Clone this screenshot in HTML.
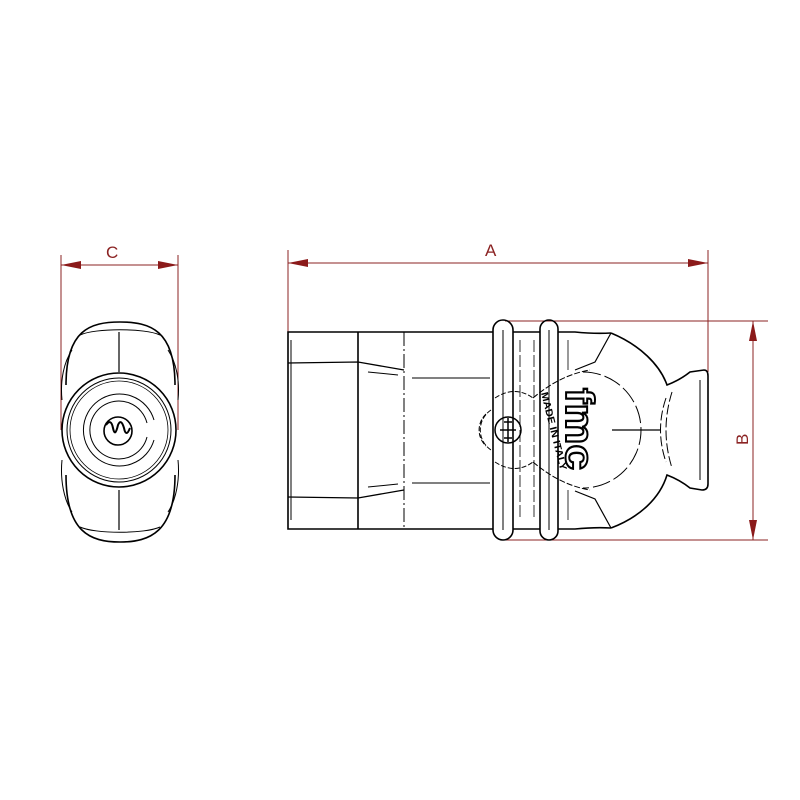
<!DOCTYPE html>
<html><head><style>html,body{margin:0;padding:0;background:#fff}svg{display:block}</style></head>
<body>
<svg width="800" height="800" viewBox="0 0 800 800" xmlns="http://www.w3.org/2000/svg">
<defs>
<marker id="ar" viewBox="0 0 20 8" refX="20" refY="4" markerWidth="20" markerHeight="8" markerUnits="userSpaceOnUse" orient="auto-start-reverse">
<path d="M0,0 L20,4 L0,8 Z" fill="#8b1a1a"/></marker>
</defs>
<g stroke="#8b2323" stroke-width="1" fill="none">
<line x1="61" y1="255" x2="61" y2="430"/><line x1="178" y1="255" x2="178" y2="430"/>
<line x1="61" y1="265" x2="178" y2="265" marker-start="url(#ar)" marker-end="url(#ar)"/>
<line x1="288" y1="250" x2="288" y2="340"/><line x1="708" y1="250" x2="708" y2="372"/>
<line x1="288" y1="263" x2="708" y2="263" marker-start="url(#ar)" marker-end="url(#ar)"/>
<line x1="505" y1="321" x2="768" y2="321"/><line x1="505" y1="540" x2="768" y2="540"/>
<line x1="753" y1="321" x2="753" y2="540" marker-start="url(#ar)" marker-end="url(#ar)"/>
</g>
<g fill="#8b2323" font-family="Liberation Sans Narrow, Liberation Sans, sans-serif" font-size="17">
<text x="106" y="258">C</text>
<text x="485" y="256">A</text>
<text x="0" y="0" transform="translate(748,445) rotate(-90)">B</text>
</g>
<g stroke="#000" fill="none" stroke-width="1.6">
<path d="M66,385 C66,330 90,322 120,322 C150,322 175,330 175,385"/>
<path d="M66,475 C66,532 90,542 120,542 C150,542 175,532 175,475"/>
<path d="M62,400 C60,380 64,362 72,350" stroke-width="1"/>
<path d="M178,400 C180,380 176,362 168,350" stroke-width="1"/>
<path d="M62,460 C60,480 64,500 72,512" stroke-width="1"/>
<path d="M178,460 C180,480 176,500 168,512" stroke-width="1"/>
<path d="M80,335 C95,328 145,328 160,335" stroke-width="1"/>
<path d="M80,527 C95,534 145,534 160,527" stroke-width="1"/>
<line x1="119" y1="332" x2="119" y2="372" stroke-width="1.2"/>
<line x1="119" y1="490" x2="119" y2="530" stroke-width="1.2"/>
<circle cx="119" cy="430" r="57"/>
<circle cx="119" cy="430" r="52" stroke-width="1"/>
<circle cx="119" cy="430" r="49" stroke-width="0.8"/>
<path d="M154,420 A36,36 0 1 0 154,440" stroke-width="1"/>
<path d="M147,423 A29,29 0 1 0 147,437" stroke-width="1"/>
<circle cx="118" cy="431" r="14" stroke-width="1.6"/>
<path d="M106,425 Q111,418 113,428 Q115,438 118,425 Q121,418 124,428 Q126,438 130,428" stroke-width="2"/>
</g>
<g stroke="#000" fill="none" stroke-width="1.6">
<path d="M493,332 L288,332 L288,529 L493,529"/>
<line x1="358" y1="332" x2="358" y2="529"/>
<line x1="404" y1="332" x2="404" y2="529" stroke-width="1" stroke-dasharray="14,3,2,3"/>
<path d="M288,363 L358,362 L404,370" stroke-width="1.3"/>
<path d="M288,497 L358,498 L404,490" stroke-width="1.3"/>
<line x1="368" y1="372" x2="398" y2="375" stroke-width="1"/>
<line x1="368" y1="487" x2="398" y2="484" stroke-width="1"/>
<line x1="412" y1="378" x2="490" y2="378" stroke-width="1"/>
<line x1="412" y1="483" x2="490" y2="483" stroke-width="1"/>
<line x1="291" y1="340" x2="291" y2="520" stroke-width="1"/>
<rect x="493" y="320" width="20" height="220" rx="10"/>
<rect x="540" y="320" width="18" height="220" rx="9"/>
<line x1="503" y1="330" x2="503" y2="530" stroke-width="1"/>
<line x1="549" y1="330" x2="549" y2="530" stroke-width="1"/>
<line x1="513" y1="332" x2="540" y2="332"/>
<line x1="513" y1="529" x2="540" y2="529"/>
<path d="M558,332 L575,332 Q595,334 611,333"/>
<path d="M558,529 L575,529 Q595,527 611,528"/>
<path d="M611,333 C640,345 660,365 667,385 Q680,380 690,372 L704,370 Q708,370 708,376 L708,484 Q708,490 702,490 L690,488 Q680,480 667,475 C660,498 640,517 611,528"/>
<line x1="700" y1="380" x2="700" y2="480" stroke-width="1"/>
<path d="M611,333 L595,362 L575,370" stroke-width="1.2"/>
<path d="M611,528 L595,499 L575,491" stroke-width="1.2"/>
<path d="M672,392 Q660,430 672,468" stroke-width="1" stroke-dasharray="10,3"/>
<path d="M666,398 Q655,430 666,462" stroke-width="1" stroke-dasharray="10,3"/>
<line x1="612" y1="430" x2="660" y2="430" stroke-width="1.2"/>
<path d="M583,372 A55,55 0 1 1 583,488" stroke-width="1" stroke-dasharray="18,4"/>
<path d="M533,398 Q560,375 590,370" stroke-width="1" stroke-dasharray="6,2"/>
<path d="M533,462 Q560,485 590,490" stroke-width="1" stroke-dasharray="6,2"/>
<path d="M495,398 Q515,385 533,398" stroke-width="1" stroke-dasharray="5,2"/>
<path d="M495,462 Q515,475 533,462" stroke-width="1" stroke-dasharray="5,2"/>
<circle cx="508" cy="430" r="13" stroke-width="1.5"/>
<path d="M491,410 A24,24 0 0 0 491,450" stroke-width="1" stroke-dasharray="5,2"/>
<path d="M486,414 A22,22 0 0 0 486,446" stroke-width="1" stroke-dasharray="5,2"/>
<path d="M504,422 h8 M508,418 v24 M500,430 h16 M504,438 h8" stroke-width="1.5"/>
<line x1="520" y1="340" x2="520" y2="520" stroke-width="0.8" stroke-dasharray="12,3"/>
<line x1="534" y1="340" x2="534" y2="520" stroke-width="0.8" stroke-dasharray="12,3"/>
<line x1="568" y1="340" x2="568" y2="370" stroke-width="0.8"/>
<line x1="568" y1="490" x2="568" y2="520" stroke-width="0.8"/>
</g>
<text x="0" y="0" transform="translate(541,393) rotate(76)" font-family="Liberation Sans, sans-serif" font-size="10" font-weight="bold" textLength="80" lengthAdjust="spacingAndGlyphs">MADE IN ITALY</text>
<text x="0" y="0" transform="translate(566,388) rotate(90)" font-family="Liberation Sans, sans-serif" font-size="40" font-weight="bold" fill="#fff" stroke="#000" stroke-width="2" textLength="82" lengthAdjust="spacingAndGlyphs">fmc</text>
</svg>
</body></html>
